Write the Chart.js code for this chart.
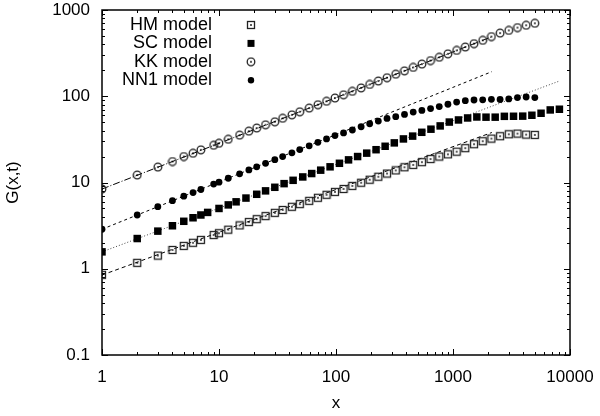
<!DOCTYPE html>
<html>
<head>
<meta charset="utf-8">
<script src="https://cdn.jsdelivr.net/npm/chart.js@4.4.1/dist/chart.umd.min.js"></script>
<style>
  html, body { margin: 0; padding: 0; background: #fff; }
  canvas { display: block; }
</style>
</head>
<body>
<canvas id="chart" width="600" height="416"></canvas>
<script>
// axis ticks (decades)
const xTicks = [1, 10, 100, 1000, 10000];
const yTicks = [0.1, 1, 10, 100, 1000];

// log-binned x values shared by HM, KK and NN1
const xBins = [1, 2, 3, 4, 5, 6, 7, 9, 10, 12, 15, 18, 21, 25, 30, 35, 42, 49, 59, 70,
  83, 98, 116, 138, 164, 194, 230, 273, 324, 385, 457, 542, 643, 763, 905, 1074, 1274,
  1512, 1794, 2129, 2526, 2997, 3556, 4219, 5006];

// SC model uses its own bins
const scX = [1, 2, 3, 4, 5, 6, 7, 8, 10, 12, 14, 17, 21, 25, 30, 36, 43, 52, 62, 74,
  89, 107, 128, 153, 183, 220, 263, 315, 377, 452, 541, 648, 777, 930, 1114, 1334, 1599,
  1915, 2294, 2748, 3291, 3943, 4723, 5658, 6777, 8118];

const hmY = [0.85, 1.17, 1.42, 1.65, 1.84, 2.0, 2.16, 2.46, 2.58, 2.84, 3.18, 3.48, 3.76,
  4.08, 4.45, 4.8, 5.23, 5.62, 6.13, 6.65, 7.2, 7.78, 8.42, 9.13, 9.95, 10.77, 11.67,
  12.7, 13.8, 15.0, 16.0, 17.2, 18.7, 20.0, 21.2, 22.8, 25.0, 27.8, 30.1, 32.3, 34.4,
  36.2, 36.9, 35.9, 35.6];

const scY = [1.57, 2.24, 2.73, 3.15, 3.55, 3.9, 4.2, 4.5, 5.0, 5.5, 5.97, 6.6, 7.3, 8.0,
  8.8, 9.7, 10.6, 11.6, 12.7, 13.9, 15.2, 16.7, 18.3, 20.0, 21.9, 24.0, 26.3, 28.8, 32.0,
  34.5, 38.2, 41.5, 45.3, 50.2, 53.1, 56.0, 57.5, 57.2, 57.2, 58.5, 58.6, 58.8, 60.2,
  63.5, 69.4, 70.7];

const kkY = [8.4, 12.2, 15.1, 17.5, 20.0, 21.8, 23.9, 27.0, 28.5, 31.7, 35.4, 39.4, 42.8,
  46.7, 50.6, 55.5, 60.9, 66.1, 72.9, 79.8, 87.4, 95.4, 104, 114, 125, 137, 150, 164, 180,
  197, 216, 236, 259, 283, 310, 340, 372, 407, 445, 492, 540, 580, 625, 665, 702];

const nnY = [2.87, 4.2, 5.25, 6.15, 6.95, 7.65, 8.3, 9.6, 10.1, 11.2, 12.6, 14.0, 15.2,
  16.7, 18.4, 20.0, 22.1, 24.1, 26.6, 29.2, 32.0, 35.0, 37.6, 40.6, 44.3, 48.0, 51.5,
  55.3, 58.0, 61.5, 65.5, 68.5, 72.0, 76.0, 80.8, 85.5, 88.8, 90.5, 90.8, 92.0, 91.7,
  93.0, 96.5, 98.0, 96.5];

// power-law fit lines (end points)
const hmFitX = [1, 2150], hmFitY = [0.845, 38];
const scFitX = [1, 8100], scFitY = [1.57, 150];
const kkFitX = [1, 2150], kkFitY = [8.4, 490];
const nnFitX = [1, 2150], nnFitY = [2.87, 193];

const labels = ['HM model', 'SC model', 'KK model', 'NN1 model'];

Chart.defaults.font.family = "'Liberation Sans', Arial, Helvetica, sans-serif";
Chart.defaults.font.size = 17;
Chart.defaults.color = '#000';

function pts(xs, ys) {
  return xs.map((x, i) => ({ x, y: ys[i] }));
}

// open marker with a dot in the middle
function makeIcon(shape) {
  const c = document.createElement('canvas');
  c.width = 10;
  c.height = 10;
  const g = c.getContext('2d');
  g.strokeStyle = '#222';
  g.fillStyle = '#000';
  g.lineWidth = 1.3;
  if (shape === 'box') {
    g.strokeRect(1.5, 1.5, 7, 7);
  } else {
    g.beginPath();
    g.arc(5, 5, 3.8, 0, Math.PI * 2);
    g.stroke();
  }
  g.fillRect(4.2, 4.2, 1.6, 1.6);
  return c;
}

const boxDot = makeIcon('box');
const ringDot = makeIcon('ring');

function fitLine(xs, ys, dash, color) {
  return {
    data: pts(xs, ys),
    showLine: true,
    pointRadius: 0,
    borderColor: color || '#000',
    borderWidth: 1,
    borderDash: dash,
    fill: false,
    isFit: true,
  };
}

const frameTicks = {
  id: 'frameTicks',
  beforeDatasetsDraw(chart) {
    const { ctx, chartArea: a, scales: { x, y } } = chart;
    ctx.save();
    ctx.strokeStyle = '#000';
    ctx.lineWidth = 1;
    ctx.beginPath();
    xTicks.forEach((d, i) => {
      const top = i === xTicks.length - 1 ? 1 : 9;
      for (let m = 1; m <= top; m++) {
        const px = Math.round(x.getPixelForValue(m * d)) + 0.5;
        const len = m === 1 ? 6 : 3;
        ctx.moveTo(px, a.bottom); ctx.lineTo(px, a.bottom - len);
        ctx.moveTo(px, a.top); ctx.lineTo(px, a.top + len);
      }
    });
    yTicks.forEach((d, i) => {
      const top = i === yTicks.length - 1 ? 1 : 9;
      for (let m = 1; m <= top; m++) {
        const py = Math.round(y.getPixelForValue(m * d)) + 0.5;
        const len = m === 1 ? 6 : 3;
        ctx.moveTo(a.left, py); ctx.lineTo(a.left + len, py);
        ctx.moveTo(a.right, py); ctx.lineTo(a.right - len, py);
      }
    });
    ctx.stroke();
    ctx.lineWidth = 1.5;
    ctx.strokeRect(a.left, a.top, a.right - a.left, a.bottom - a.top);
    ctx.restore();
  }
};

// legend inside the plot: right-aligned text, marker on the right
const keyBox = {
  id: 'keyBox',
  afterDraw(chart) {
    const { ctx } = chart;
    ctx.save();
    ctx.font = "18px 'Liberation Sans', Arial, sans-serif";
    ctx.fillStyle = '#000';
    ctx.textAlign = 'right';
    ctx.textBaseline = 'middle';
    chart.data.datasets.filter(ds => !ds.isFit).forEach((ds, i) => {
      const ty = 25 + i * 18.4;
      ctx.fillText(ds.label, 212, ty);
      const mx = 251;
      if (ds.pointStyle instanceof HTMLCanvasElement) {
        ctx.drawImage(ds.pointStyle, mx - 5, ty - 5);
      } else if (ds.pointStyle === 'rect') {
        ctx.fillStyle = '#000';
        ctx.fillRect(mx - 3.5, ty - 3.5, 7, 7);
      } else {
        ctx.fillStyle = '#000';
        ctx.beginPath();
        ctx.arc(mx, ty, 3.2, 0, Math.PI * 2);
        ctx.fill();
      }
      ctx.fillStyle = '#000';
    });
    ctx.restore();
  }
};

new Chart(document.getElementById('chart'), {
  type: 'scatter',
  data: {
    datasets: [
      { label: labels[0], data: pts(xBins, hmY), pointStyle: boxDot, pointRadius: 4.5 },
      { label: labels[1], data: pts(scX, scY), pointStyle: 'rect', pointRadius: 5.3,
        backgroundColor: '#000', borderColor: '#000', borderWidth: 0 },
      { label: labels[2], data: pts(xBins, kkY), pointStyle: ringDot, pointRadius: 4.5 },
      { label: labels[3], data: pts(xBins, nnY), pointStyle: 'circle', pointRadius: 3.4,
        backgroundColor: '#000', borderColor: '#000', borderWidth: 0 },
      fitLine(hmFitX, hmFitY, [4, 3]),
      fitLine(scFitX, scFitY, [1, 2], '#444'),
      fitLine(kkFitX, kkFitY, [7, 2, 1, 2]),
      fitLine(nnFitX, nnFitY, [3, 3]),
    ]
  },
  options: {
    responsive: false,
    animation: false,
    devicePixelRatio: 1,
    layout: { padding: { top: 10, right: 30, left: 0, bottom: 0 } },
    plugins: {
      legend: { display: false },
      tooltip: { enabled: false },
    },
    scales: {
      x: {
        type: 'logarithmic',
        min: 1,
        max: 10000,
        afterBuildTicks: (s) => { s.ticks = xTicks.map(v => ({ value: v })); },
        afterFit: (s) => { s.height = 61; s.paddingLeft = 0; s.paddingRight = 0; },
        grid: { display: false, drawTicks: false },
        border: { display: false },
        ticks: { padding: 12, maxRotation: 0, autoSkip: false, callback: (v) => String(v) },
        title: { display: true, text: 'x', padding: { top: 0, bottom: 2 } },
      },
      y: {
        type: 'logarithmic',
        min: 0.1,
        max: 1000,
        afterBuildTicks: (s) => { s.ticks = yTicks.map(v => ({ value: v })); },
        afterFit: (s) => { s.width = 102; s.paddingTop = 0; s.paddingBottom = 0; },
        grid: { display: false, drawTicks: false },
        border: { display: false },
        ticks: { padding: 12, autoSkip: false, callback: (v) => String(v) },
        title: { display: true, text: 'G(x,t)', padding: { top: 3, bottom: 0 } },
      },
    },
  },
  plugins: [frameTicks, keyBox],
});
</script>
</body>
</html>
